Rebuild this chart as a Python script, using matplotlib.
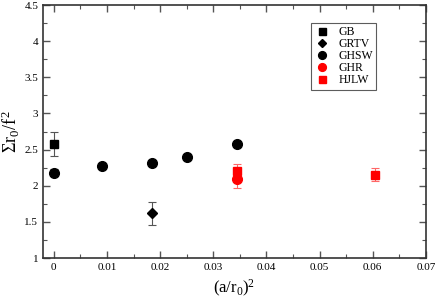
import matplotlib
matplotlib.use("Agg")
import matplotlib.pyplot as plt
from matplotlib.lines import Line2D
from matplotlib.ticker import MultipleLocator, FormatStrFormatter

plt.rcParams["font.family"] = "Liberation Serif"
plt.rcParams["mathtext.fontset"] = "custom"
plt.rcParams["mathtext.rm"] = "Liberation Serif"
plt.rcParams["mathtext.it"] = "Liberation Serif"

# data
gb_x = [0.0];                  gb_y = [2.58];       gb_err = [0.17]
grtv_x = [0.0185];             grtv_y = [1.62];     grtv_err = [0.16]
ghsw_x = [0.0, 0.009, 0.0185, 0.025, 0.0345]
ghsw_y = [2.18, 2.27, 2.31, 2.40, 2.58]
ghsw_err = [0.05, 0.0, 0.0, 0.0, 0.0]
ghr_x = [0.0345];              ghr_y = [2.09];      ghr_err = [0.12]
hjlw_x = [0.0345, 0.0605];     hjlw_y = [2.20, 2.15]; hjlw_err = [0.10, 0.09]

labels = ["GB", "GRTV", "GHSW", "GHR", "HJLW"]

fig = plt.figure(figsize=(4.36, 3.0), dpi=100)
ax = fig.add_axes([0.099, 0.14, 0.878, 0.843])

ebk = dict(ls="none", capsize=3, elinewidth=0.8, capthick=0.8)
styles = [("s", "black", 6.3, "#555555"), ("D", "black", 4.8, "#555555"),
          ("o", "black", 7, "#555555"), ("o", "red", 7, "#ff6666"),
          ("s", "red", 6.3, "#ff6666")]
series = [(gb_x, gb_y, gb_err), (grtv_x, grtv_y, grtv_err),
          (ghsw_x, ghsw_y, ghsw_err), (ghr_x, ghr_y, ghr_err),
          (hjlw_x, hjlw_y, hjlw_err)]
handles = []
for (x, y, e), (m, c, ms, ec), lab in zip(series, styles, labels):
    ax.errorbar(x, y, yerr=e, fmt=m, color=c, ms=ms, ecolor=ec, **ebk)
    handles.append(Line2D([], [], ls="none", marker=m, color=c,
                          ms=ms * 0.8, label=lab))

ax.set_xlim(-0.002, 0.07)
ax.set_ylim(1, 4.5)
ax.xaxis.set_major_locator(MultipleLocator(0.01))
ax.xaxis.set_minor_locator(MultipleLocator(0.005))
ax.xaxis.set_major_formatter(FormatStrFormatter("%g"))
ax.yaxis.set_major_locator(MultipleLocator(0.5))
ax.yaxis.set_minor_locator(MultipleLocator(0.25))
ax.yaxis.set_major_formatter(FormatStrFormatter("%g"))
ax.tick_params(which="both", direction="in", top=True, right=True,
               color="#555555", labelsize=8)
ax.tick_params(which="major", length=5, width=1)
ax.tick_params(which="minor", length=3, width=0.8)
for s in ax.spines.values():
    s.set_color("#333333")
    s.set_linewidth(1.2)

ax.set_xlabel(r"$(a/r_0)^2$", fontsize=12)
ax.set_ylabel(r"$\Sigma r_0/f^2$", fontsize=13, labelpad=2)

leg = ax.legend(handles=handles, loc="upper left", bbox_to_anchor=(0.70, 0.93),
                borderaxespad=0, fontsize=8.5, frameon=True, fancybox=False,
                edgecolor="#333333", handletextpad=0.8, borderpad=0.3,
                labelspacing=0.0, handlelength=1.2)
leg.get_frame().set_linewidth(0.8)

fig.savefig("out.png", dpi=100)
